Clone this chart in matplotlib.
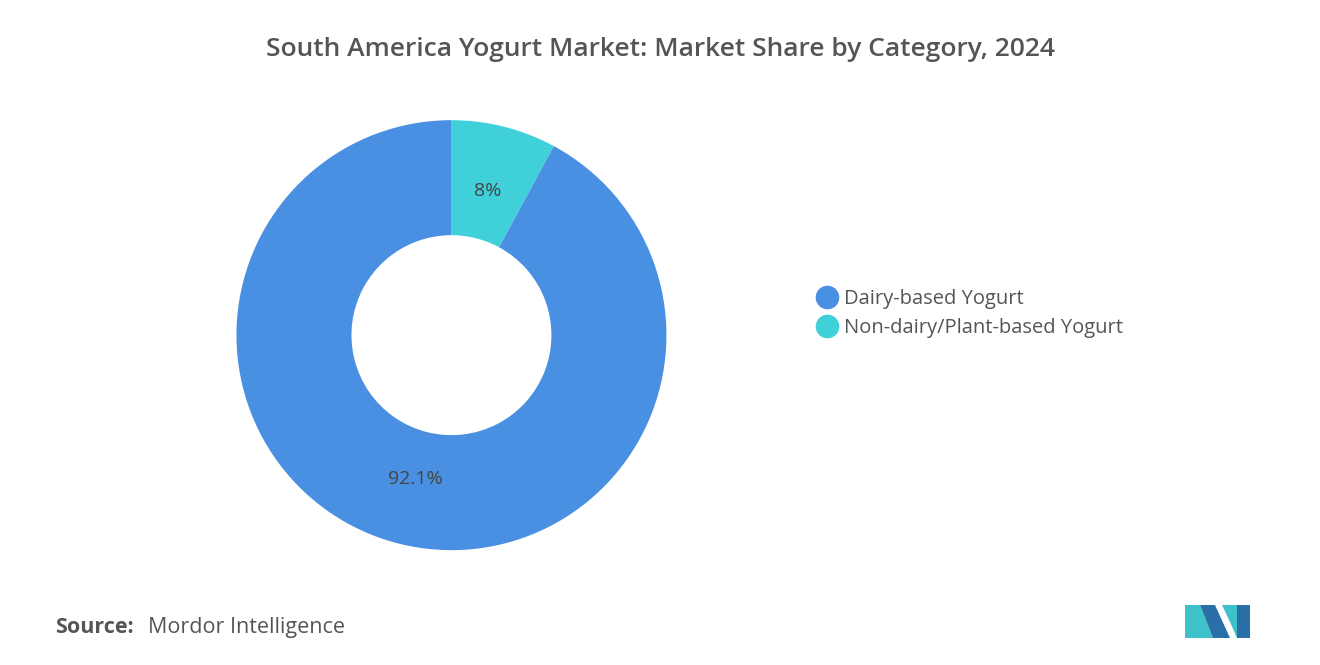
import numpy as np
import matplotlib.pyplot as plt
from matplotlib.patches import Polygon
from matplotlib.lines import Line2D

categories = ["Non-dairy/Plant-based Yogurt", "Dairy-based Yogurt"]
shares = [7.9, 92.1]
share_labels = ["8%", "92.1%"]
colors = ["#40D0DA", "#4A90E2"]

plt.rcParams["font.family"] = "Open Sans"

fig = plt.figure(figsize=(13.2, 6.65), dpi=100)
ax = fig.add_axes([0.342 - 0.163, 0.496 - 0.3233, 0.326, 0.6466])
wedges, _ = ax.pie(shares, colors=colors, startangle=90, counterclock=False,
                   radius=1.0, wedgeprops=dict(width=0.535, linewidth=0))
ax.set_xlim(-1, 1)
ax.set_ylim(-1, 1)
ax.set_aspect("equal")

# value labels inside the ring
for w, lab in zip(wedges, share_labels):
    mid = np.deg2rad((w.theta1 + w.theta2) / 2)
    r = 0.69
    ax.text(r * np.cos(mid), r * np.sin(mid), lab, ha="center", va="center",
            fontsize=14, color="#444444")

fig.text(0.5, 0.925, "South America Yogurt Market: Market Share by Category, 2024",
         ha="center", va="center", fontsize=19, color="#555555", fontweight="semibold")

handles = [Line2D([0], [0], marker="o", linestyle="", markersize=17,
                  markerfacecolor=colors[1], markeredgewidth=0),
           Line2D([0], [0], marker="o", linestyle="", markersize=17,
                  markerfacecolor=colors[0], markeredgewidth=0)]
fig.legend(handles, [categories[1], categories[0]], loc="center left",
           bbox_to_anchor=(0.604, 0.529), frameon=False, fontsize=14.5,
           labelcolor="#555555", handletextpad=0.2, labelspacing=0.45,
           handlelength=1.2)

fig.text(0.042, 0.056, "Source:", fontsize=15.5, fontweight="bold", color="#555555",
         va="center")
fig.text(0.112, 0.056, "Mordor Intelligence", fontsize=15.5, color="#555555",
         va="center")

# simple logo
def px(x, y):
    return (x / 1320, 1 - y / 665)
logo = [
    ([(1185, 638), (1185, 605), (1200, 605), (1213, 638)], "#3FC1C9"),
    ([(1200, 605), (1215, 605), (1230, 638), (1213, 638)], "#2A6FA8"),
    ([(1222, 605), (1237, 605), (1237, 638), (1230, 622)], "#3FC1C9"),
    ([(1237, 605), (1250, 605), (1250, 638), (1237, 638)], "#2A6FA8"),
]
for pts, c in logo:
    fig.patches.append(Polygon([px(*p) for p in pts], closed=True,
                               transform=fig.transFigure, facecolor=c,
                               edgecolor="none"))

fig.savefig("out.png", dpi=100, facecolor="white")
